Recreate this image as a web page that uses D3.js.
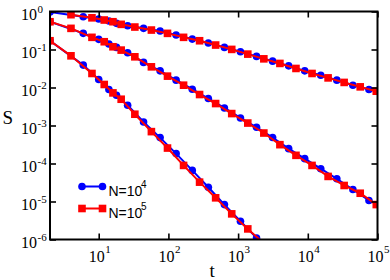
<!DOCTYPE html>
<html><head><meta charset="utf-8">
<script src="https://cdn.jsdelivr.net/npm/d3@7"></script>
<style>body{margin:0;background:#fff}svg{display:block}</style>
</head><body><svg id="c" width="390" height="280"></svg>
<script>
// ---- data ----
const xTickValues = [1e1, 1e2, 1e3, 1e4, 1e5];
const xTickExp = ["1", "2", "3", "4", "5"];
const yTickValues = [1, 1e-1, 1e-2, 1e-3, 1e-4, 1e-5, 1e-6];
const yTickExp = ["0", "-1", "-2", "-3", "-4", "-5", "-6"];
const seriesNames = ["N=10", "N=10"];
const seriesExp = ["4", "5"];

const tBlue = [2, 6, 10, 14, 18, 26, 44, 76, 129, 220, 374, 636, 1081, 1838, 3125, 5312, 9031, 15353, 26100, 44370, 75429];
const tRed = [2, 4, 8, 12, 16, 21, 33, 57, 97, 165, 280, 476, 810, 1377, 2340, 3979, 6764, 11500, 19550, 33230, 56500, 96050];
const tRedTop = [4, 8, 12, 16, 21, 33, 57, 97, 165, 280, 476, 810, 1377, 2340, 3979, 6764, 11500, 19550, 33230, 56500, 96050];

const topBlue = [0.97, 0.729, 0.634, 0.561, 0.488, 0.422, 0.360, 0.306, 0.240, 0.188, 0.148, 0.1136, 0.0869, 0.0658, 0.0494, 0.0371, 0.0274, 0.0211, 0.0156, 0.0115, 0.00886];
const topRed = [0.824, 0.682, 0.597, 0.538, 0.459, 0.390, 0.325, 0.266, 0.209, 0.170, 0.131, 0.1006, 0.0756, 0.0568, 0.0430, 0.0317, 0.0234, 0.0179, 0.0136, 0.0104, 0.00798];
const midBlue = [0.538, 0.266, 0.185, 0.139, 0.1136, 0.0818, 0.0457, 0.0274, 0.0156, 0.00902, 0.00513, 0.00290, 0.00158, 0.000897, 0.000482, 0.000246, 0.000134, 7.29e-5, 3.97e-5, 2.07e-5, 1.06e-5];
const midRed = [0.538, 0.360, 0.209, 0.160, 0.118, 0.0964, 0.0642, 0.0350, 0.0199, 0.0115, 0.00653, 0.00378, 0.00206, 0.00116, 0.000634, 0.000313, 0.000164, 8.9e-5, 4.57e-5, 2.64e-5, 1.65e-5, 8.3e-6];
const botBlue = [0.170, 0.0388, 0.0163, 0.00886, 0.00626, 0.00341, 0.00124, 0.000480, 0.000182, 6.58e-5, 2.38e-5, 8.3e-6, 3.02e-6, 1.10e-6];
const botRed = [0.170, 0.0682, 0.0234, 0.0120, 0.00721, 0.00491, 0.00198, 0.00069, 0.000255, 8.9e-5, 3.23e-5, 1.25e-5, 4.73e-6, 1.9e-6, 7.9e-7];

// ---- layout ----
const L = 50, R = 377.5, T = 11.5, B = 239.5;
const BLUE = "#0000ff", RED = "#ff0000";
const svg = d3.select("#c");
const x = d3.scaleLog().domain([2, 1e5]).range([L, R]);
const y = d3.scaleLog().domain([1e-6, 1]).range([B, T]);

const blueSets = [[tBlue, topBlue], [tBlue, midBlue], [tBlue, botBlue]];
const redSets = [[tRedTop, topRed], [tRed, midRed], [tRed, botRed]];

svg.append("defs").append("clipPath").attr("id", "clip")
  .append("rect").attr("x", L).attr("y", T).attr("width", R - L).attr("height", B - T);

const plot = svg.append("g").attr("clip-path", "url(#clip)");
const line = d3.line().x(d => x(d[0])).y(d => y(d[1]));

function drawSet(ts, vals, color, shape) {
  const pts = vals.map((v, i) => [ts[i], v]);
  plot.append("path").datum(pts).attr("d", line)
    .attr("fill", "none").attr("stroke", color).attr("stroke-width", 2);
  if (shape === "circle") {
    plot.selectAll(null).data(pts).enter().append("circle")
      .attr("cx", d => x(d[0])).attr("cy", d => y(d[1])).attr("r", 3.8).attr("fill", color);
  } else {
    plot.selectAll(null).data(pts).enter().append("rect")
      .attr("x", d => x(d[0]) - 3.8).attr("y", d => y(d[1]) - 3.8)
      .attr("width", 7.6).attr("height", 7.6).attr("fill", color);
  }
}
blueSets.forEach(s => drawSet(s[0], s[1], BLUE, "circle"));
redSets.forEach(s => drawSet(s[0], s[1], RED, "square"));

// ---- axes (ticks inward) ----
const tk = 6;
svg.append("g").attr("transform", `translate(0,${B})`)
  .call(d3.axisBottom(x).tickValues(xTickValues).tickSize(-tk).tickFormat(""));
svg.append("g").attr("transform", `translate(0,${T})`)
  .call(d3.axisTop(x).tickValues(xTickValues).tickSize(-tk).tickFormat(""));
svg.append("g").attr("transform", `translate(${L},0)`)
  .call(d3.axisLeft(y).tickValues(yTickValues).tickSize(-tk).tickFormat(""));
svg.append("g").attr("transform", `translate(${R},0)`)
  .call(d3.axisRight(y).tickValues(yTickValues).tickSize(-tk).tickFormat(""));
svg.selectAll(".domain").remove();
svg.selectAll(".tick line").attr("stroke", "#000").attr("stroke-width", 1.6);

svg.append("rect").attr("x", L).attr("y", T).attr("width", R - L).attr("height", B - T)
  .attr("fill", "none").attr("stroke", "#000").attr("stroke-width", 2);

// ---- tick labels ----
const serif = "'Liberation Serif','Times New Roman',serif";
xTickValues.forEach((v, i) => {
  const px = x(v);
  svg.append("text").attr("x", px + 6).attr("y", 262).attr("text-anchor", "end")
    .attr("font-family", serif).attr("font-size", 16).text("10");
  svg.append("text").attr("x", px + 6.5).attr("y", 252.5).attr("text-anchor", "start")
    .attr("font-family", serif).attr("font-size", 11).text(xTickExp[i]);
});
yTickValues.forEach((v, i) => {
  const py = y(v);
  svg.append("text").attr("x", 37).attr("y", py + 8.5).attr("text-anchor", "end")
    .attr("font-family", serif).attr("font-size", 16).text("10");
  svg.append("text").attr("x", 37.5).attr("y", py + 1).attr("text-anchor", "start")
    .attr("font-family", serif).attr("font-size", 11).text(yTickExp[i]);
});

// axis titles
svg.append("text").attr("x", 2.5).attr("y", 123.5).attr("font-family", serif)
  .attr("font-size", 19).text("S");
svg.append("text").attr("x", 209.5).attr("y", 276.5).attr("font-family", serif)
  .attr("font-size", 19).text("t");

// ---- legend ----
const sans = "'Liberation Sans',Arial,sans-serif";
const legY = [186.5, 208.5];
const legColors = [BLUE, RED];
const legShapes = ["circle", "square"];
legY.forEach((ly, i) => {
  const g = svg.append("g");
  g.append("line").attr("x1", 82).attr("x2", 102.5).attr("y1", ly).attr("y2", ly)
    .attr("stroke", legColors[i]).attr("stroke-width", 2);
  [82, 102.5].forEach(lx => {
    if (legShapes[i] === "circle") g.append("circle").attr("cx", lx).attr("cy", ly).attr("r", 3.8).attr("fill", legColors[i]);
    else g.append("rect").attr("x", lx - 3.8).attr("y", ly - 3.8).attr("width", 7.6).attr("height", 7.6).attr("fill", legColors[i]);
  });
  g.append("text").attr("x", 108.5).attr("y", ly + 9).attr("font-family", sans)
    .attr("font-size", 14).text(seriesNames[i]);
  g.append("text").attr("x", 141).attr("y", ly + 1.5).attr("font-family", sans)
    .attr("font-size", 10).text(seriesExp[i]);
});
</script></body></html>
